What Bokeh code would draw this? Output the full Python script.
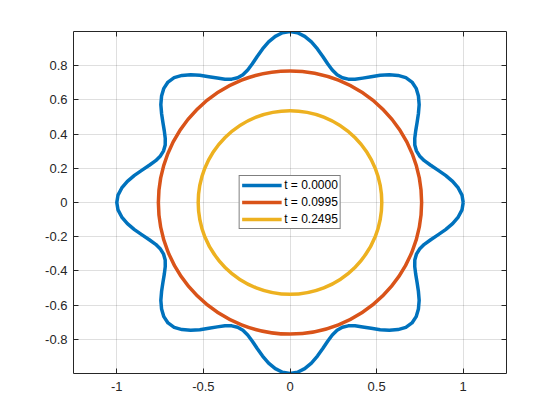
import numpy as np
from bokeh.plotting import figure
from bokeh.models import Range1d, FixedTicker, LinearAxis, Legend, LegendItem, ColumnDataSource
from bokeh.embed import file_html
from bokeh.resources import INLINE

# ---- data ----
# radius of the t = 0 curve, one quadrant (angle in degrees); curve is mirror-symmetric about both axes
theta0_deg = [0, 2.5, 5, 7.5, 10, 12.5, 15, 17.5, 20, 22.5, 25, 27.5, 30, 32.5, 35, 37.5, 40, 42.5,
              45, 47.5, 50, 52.5, 55, 57.5, 60, 62.5, 65, 67.5, 70, 72.5, 75, 77.5, 80, 82.5, 85, 87.5, 90]
r0 = [1.000, 0.994, 0.975, 0.947, 0.912, 0.875, 0.841, 0.813, 0.796, 0.790, 0.795, 0.812, 0.838,
      0.870, 0.905, 0.940, 0.968, 0.988, 0.996, 0.990, 0.970, 0.942, 0.908, 0.872, 0.840, 0.813,
      0.796, 0.790, 0.795, 0.812, 0.840, 0.875, 0.912, 0.947, 0.975, 0.994, 1.000]
labels = ["t = 0.0000", "t = 0.0995", "t = 0.2495"]
circle_radius = [0.76, 0.53]          # t = 0.0995, t = 0.2495
colors = ["#0072BD", "#D95319", "#EDB120"]

x_ticks = [-1, -0.5, 0, 0.5, 1]
x_tick_labels = ["-1", "-0.5", "0", "0.5", "1"]
y_ticks = [-0.8, -0.6, -0.4, -0.2, 0, 0.2, 0.4, 0.6, 0.8]
y_tick_labels = ["-0.8", "-0.6", "-0.4", "-0.2", "0", "0.2", "0.4", "0.6", "0.8"]

# ---- build full closed curve by symmetry ----
d = np.array(theta0_deg, dtype=float)
r = np.array(r0, dtype=float)
ang = np.concatenate([d, 180 - d[::-1][1:], 180 + d[1:], 360 - d[::-1][1:]])
rad = np.concatenate([r, r[::-1][1:], r[1:], r[::-1][1:]])
xs = rad * np.cos(np.deg2rad(ang))
ys = rad * np.sin(np.deg2rad(ang))

FONT = "Liberation Sans"
INK = "#262626"

p = figure(width=552, height=412, title=None,
           x_range=Range1d(-1.25, 1.25), y_range=Range1d(-1, 1),
           output_backend="svg", toolbar_location=None,
           min_border_left=73, min_border_right=46, min_border_top=31, min_border_bottom=39)
p.background_fill_color = "white"
p.border_fill_color = "white"
p.outline_line_color = None

lw = 3.5
blue = p.line(xs, ys, line_color=colors[0], line_width=lw, line_join="round")
circ_src = ColumnDataSource(dict(x=[0, 0], y=[0, 0], r=circle_radius, c=colors[1:]))
p.circle(x="x", y="y", radius="r", source=circ_src, fill_color=None, line_color="c", line_width=lw)

# legend-only line renderers (no visible data)
dummy1 = p.line(x=[np.nan], y=[np.nan], line_color=colors[1], line_width=lw)
dummy2 = p.line(x=[np.nan], y=[np.nan], line_color=colors[2], line_width=lw)

def style_axis(ax, ticks, labs, show):
    ax.ticker = FixedTicker(ticks=ticks)
    if show:
        ax.major_label_overrides = {t: l for t, l in zip(ticks, labs)}
    else:
        ax.major_label_overrides = {t: "" for t in ticks}
    ax.major_tick_in = 5
    ax.major_tick_out = 0
    ax.minor_tick_line_color = None
    ax.axis_line_color = INK
    ax.axis_line_width = 1
    ax.major_tick_line_color = INK
    ax.major_tick_line_width = 1
    ax.major_label_text_font = FONT
    ax.major_label_text_font_size = "13px"
    ax.major_label_text_color = INK

style_axis(p.xaxis[0], x_ticks, x_tick_labels, True)
p.xaxis[0].major_label_standoff = 8
style_axis(p.yaxis[0], y_ticks, y_tick_labels, True)
p.yaxis[0].major_label_standoff = 6

top = LinearAxis()
style_axis(top, x_ticks, x_tick_labels, False)
top.major_label_text_font_size = "1px"
p.add_layout(top, "above")
right = LinearAxis()
style_axis(right, y_ticks, y_tick_labels, False)
right.major_label_text_font_size = "1px"
p.add_layout(right, "right")

for g in (p.xgrid, p.ygrid):
    g.grid_line_color = INK
    g.grid_line_alpha = 0.15
    g.grid_line_width = 1
p.xgrid.ticker = FixedTicker(ticks=x_ticks)
p.ygrid.ticker = FixedTicker(ticks=y_ticks)

legend = Legend(items=[LegendItem(label=labels[0], renderers=[blue]),
                       LegendItem(label=labels[1], renderers=[dummy1]),
                       LegendItem(label=labels[2], renderers=[dummy2])],
                location="center", margin=0, padding=2, spacing=3,
                glyph_width=40, glyph_height=14, label_height=14, label_standoff=3,
                label_text_font=FONT, label_text_font_size="12px", label_text_color="black",
                border_line_color="black", border_line_width=1,
                background_fill_color="white", background_fill_alpha=1)
p.add_layout(legend, "center")

open("out.html", "w").write(file_html(p, INLINE))
